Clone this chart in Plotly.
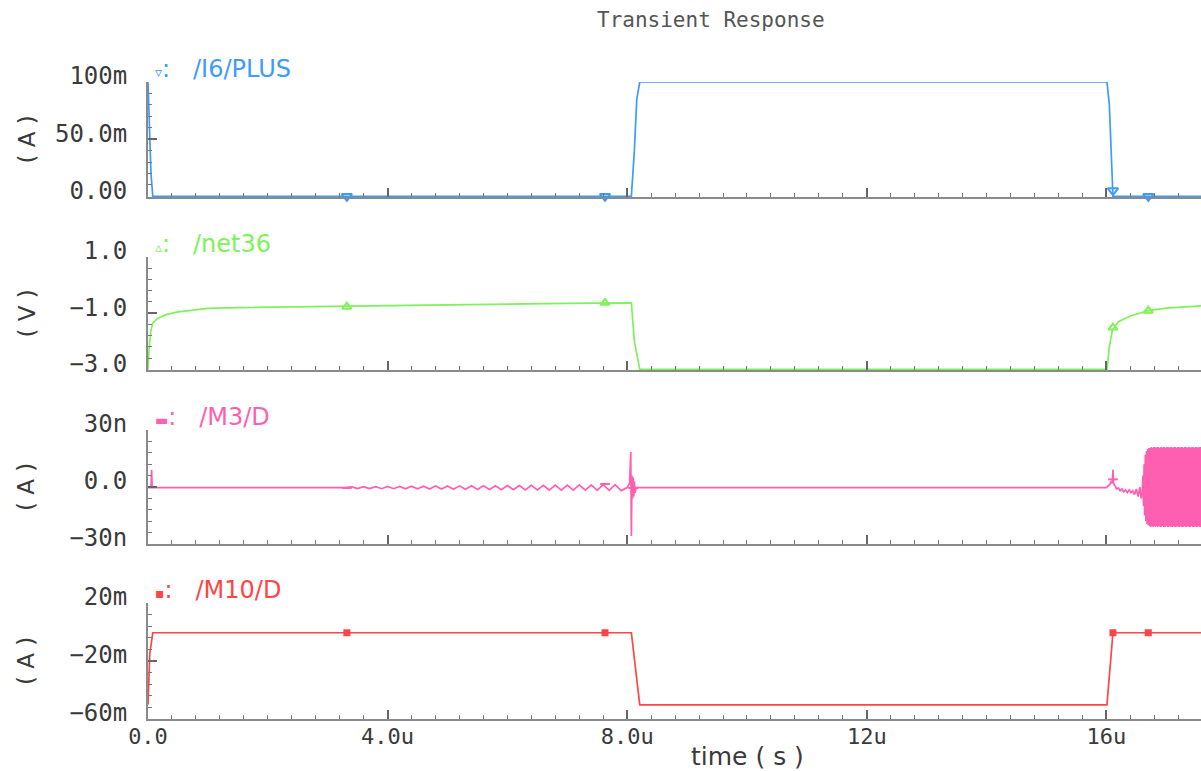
import plotly.graph_objects as go

# ---------------- data (time in microseconds) ----------------
# /I6/PLUS  (mA)
plus_t = [0, 0.02, 0.05, 0.08, 8.07, 8.12, 8.16, 8.21, 16.01, 16.05, 16.09, 16.11, 17.58]
plus_v = [100, 60, 20, 0, 0, 40, 85, 100, 100, 80, 30, 0, 0]
plus_mk_t = [3.32, 7.63, 16.11, 16.70]
plus_mk_v = [0, 0, 5, 0]

# /net36  (V)
net_t = [0, 0.02, 0.05, 0.08, 0.15, 0.3, 0.5, 0.8, 1.0, 1.5, 3.0, 5.0, 7.0, 8.07,
         8.12, 8.21, 16.01, 16.05, 16.1, 16.2, 16.4, 16.7, 17.0, 17.58]
net_v = [-3.0, -2.2, -1.6, -1.35, -1.2, -1.05, -0.95, -0.88, -0.83, -0.80, -0.75, -0.70,
         -0.65, -0.63, -2.0, -3.0, -3.0, -2.2, -1.6, -1.3, -1.1, -0.91, -0.82, -0.74]
net_mk_t = [3.32, 7.63, 16.11, 16.70]
net_mk_v = [-0.77, -0.63, -1.51, -0.91]

# /M3/D  (nA)
m3_t = [0, 0.05, 0.06, 0.07, 0.09, 3.3,
        3.4, 3.5, 3.6, 3.7, 3.8, 3.9, 4.0, 4.1, 4.2, 4.3, 4.4, 4.5, 4.6, 4.7, 4.8, 4.9,
        5.0, 5.1, 5.2, 5.3, 5.4, 5.5, 5.6, 5.7, 5.8, 5.9, 6.0, 6.1, 6.2, 6.3, 6.4, 6.5,
        6.6, 6.7, 6.8, 6.9, 7.0, 7.1, 7.2, 7.3, 7.4, 7.5, 7.6, 7.7, 7.8, 7.9,
        8.0, 8.04, 8.06, 8.07, 8.08, 8.09, 8.10, 8.11, 8.12, 8.13, 8.15,
        16.0, 16.06, 16.08, 16.10, 16.11, 16.12, 16.14, 16.17, 16.2, 16.23, 16.26, 16.29,
        16.32, 16.35, 16.38, 16.41, 16.44, 16.47, 16.5, 16.53, 16.56, 16.58,
        16.60, 16.61, 16.62, 16.63, 16.64, 16.65, 16.66, 16.67, 16.68, 16.69,
        16.70, 16.71, 16.72, 16.73, 16.74, 16.75, 16.76, 16.77, 16.78, 16.79,
        16.80, 16.81, 16.82, 16.83, 16.84, 16.85, 16.86, 16.87, 16.88, 16.89,
        16.90, 16.91, 16.92, 16.93, 16.94, 16.95, 16.96, 16.97, 16.98, 16.99,
        17.00, 17.01, 17.02, 17.03, 17.04, 17.05, 17.06, 17.07, 17.08, 17.09,
        17.10, 17.11, 17.12, 17.13, 17.14, 17.15, 17.16, 17.17, 17.18, 17.19,
        17.20, 17.21, 17.22, 17.23, 17.24, 17.25, 17.26, 17.27, 17.28, 17.29,
        17.30, 17.31, 17.32, 17.33, 17.34, 17.35, 17.36, 17.37, 17.38, 17.39,
        17.40, 17.41, 17.42, 17.43, 17.44, 17.45, 17.46, 17.47, 17.48, 17.49,
        17.50, 17.51, 17.52, 17.53, 17.54, 17.55, 17.56, 17.57, 17.58]
m3_v = [-0.3, -0.3, 9, -0.3, -0.3, -0.3,
        0.1, -0.8, 0.2, -0.8, 0.2, -0.9, 0.3, -0.9, 0.3, -1.0, 0.4, -1.0, 0.4, -1.1, 0.5, -1.1,
        0.5, -1.2, 0.6, -1.2, 0.6, -1.3, 0.7, -1.3, 0.7, -1.4, 0.8, -1.4, 0.8, -1.5, 0.9, -1.5,
        0.9, -1.6, 1.0, -1.6, 1.0, -1.7, 1.1, -1.7, 1.1, -1.8, 1.2, -1.8, 1.2, -1.9,
        -0.3, 2, 18.4, -25.8, 6, -6, 5, -5, 3, -3, -0.3,
        -0.3, 1.5, 3, 2, 9, 2, 0.5, -1, -0.5, -2, -1, -2.5,
        -1.5, -3, -1.5, -3, -2, -4, -1, -5, 0, -6,
        -3, 6, -10, 12, -15, 17, -18, 19, -19.5, 20,
        -20, 20.5, -20.5, 20.5, -21, 21, -20.5, 20.5, -21, 21,
        -20.5, 21, -21, 20.5, -20.5, 21, -21, 21, -20.5, 20.5,
        -21, 21, -21, 20.5, -20.5, 21, -21, 21, -21, 20.5,
        -20.5, 21, -21, 21, -21, 20.5, -20.5, 21, -21, 21,
        -21, 20.5, -20.5, 21, -21, 21, -21, 20.5, -20.5, 21,
        -21, 21, -21, 20.5, -20.5, 21, -21, 21, -21, 20.5,
        -20.5, 21, -21, 21, -21, 20.5, -20.5, 21, -21, 21,
        -21, 20.5, -20.5, 21, -21, 21, -21, 20.5, -20.5, 21,
        -21, 21, -21, 20.5, -20.5, 21, -21, 21, -21]
m3_mk_t = [3.32, 7.63, 8.10, 16.11]
m3_mk_v = [-0.5, 1.6, -0.5, 4]

# /M10/D  (mA)
m10_t = [0, 0.01, 0.03, 0.08, 8.07, 8.21, 16.01, 16.11, 17.58]
m10_v = [-50, -30, -15, -0.5, -0.5, -50.3, -50.3, -0.5, -0.5]
m10_mk_t = [3.32, 7.63, 16.11, 16.70]
m10_mk_v = [-0.5, -0.5, -0.5, -0.5]

x_tickvals = [0, 4, 8, 12, 16]
x_ticktext = ["0.0", "4.0u", "8.0u", "12u", "16u"]

panels = [
    dict(name="/I6/PLUS", sym="▿", color="#3d9bff", t=plus_t, v=plus_v,
         mt=plus_mk_t, mv=plus_mk_v, msym="triangle-down-open", msize=9,
         yr=[-0.6, 100], yt=[0, 50, 100], ytt=["0.00", "50.0m", "100m"], ymin=10,
         unit="( A )", top=82, bot=197),
    dict(name="/net36", sym="▵", color="#7df25a", t=net_t, v=net_v,
         mt=net_mk_t, mv=net_mk_v, msym="triangle-up-open", msize=8,
         yr=[-3.02, 1], yt=[-3, -1, 1], ytt=["−3.0", "−1.0", "1.0"], ymin=0.4,
         unit="( V )", top=257, bot=370),
    dict(name="/M3/D", sym="▬", color="#ff5fb0", t=m3_t, v=m3_v,
         mt=m3_mk_t, mv=m3_mk_v, msym="line-ew", msize=7,
         yr=[-30, 30], yt=[-30, 0, 30], ytt=["−30n", "0.0", "30n"], ymin=6,
         unit="( A )", top=430, bot=544),
    dict(name="/M10/D", sym="▪", color="#ff4545", t=m10_t, v=m10_v,
         mt=m10_mk_t, mv=m10_mk_v, msym="square", msize=5,
         yr=[-60, 20], yt=[-60, -20, 20], ytt=["−60m", "−20m", "20m"], ymin=8,
         unit="( A )", top=603, bot=719),
]

W, H, L = 1201, 771, 148
AX = "#8a8a8a"
TXT = "#3a3a3a"
MONO = "DejaVu Sans Mono"
SANS = "DejaVu Sans"

fig = go.Figure()
annotations = []
layout = {}

for i, p in enumerate(panels, start=1):
    xa = f"x{i}"
    ya = f"y{i}"
    fig.add_trace(go.Scatter(x=p["t"], y=p["v"], xaxis=xa, yaxis=ya, mode="lines",
                             line=dict(color=p["color"], width=1.7), hoverinfo="skip"))
    fig.add_trace(go.Scatter(x=p["mt"], y=p["mv"], xaxis=xa, yaxis=ya, mode="markers",
                             cliponaxis=False,
                             marker=dict(symbol=p["msym"], size=p["msize"], color=p["color"],
                                         line=dict(color=p["color"], width=2)),
                             hoverinfo="skip"))
    dom = [1 - p["bot"] / H, 1 - p["top"] / H]
    layout[f"xaxis{i}" if i > 1 else "xaxis"] = dict(
        domain=[0, 1], anchor=ya, range=[0, 17.58], automargin=False,
        showline=True, linecolor=AX, linewidth=2, mirror=False,
        showgrid=False, zeroline=False,
        tickmode="array", tickvals=x_tickvals, ticktext=x_ticktext,
        ticks="inside", ticklen=9, tickwidth=2, tickcolor="#666",
        showticklabels=(i == 4), ticklabelstandoff=-3,
        tickfont=dict(family=MONO, size=22, color=TXT),
        minor=dict(ticks="inside", tickmode="linear", tick0=0, dtick=0.4,
                   ticklen=4, tickwidth=1, tickcolor="#777", showgrid=False),
        **({"matches": "x"} if i > 1 else {}),
    )
    layout[f"yaxis{i}" if i > 1 else "yaxis"] = dict(
        domain=dom, anchor=xa, range=p["yr"], automargin=False,
        showline=True, linecolor=AX, linewidth=2,
        showgrid=False, zeroline=False,
        tickmode="array", tickvals=p["yt"], ticktext=p["ytt"],
        ticks="inside", ticklen=9, tickwidth=2, tickcolor="#666",
        ticklabelstandoff=14, ticklabelshift=-6,
        tickfont=dict(family=MONO, size=24, color=TXT),
        minor=dict(ticks="inside", tickmode="linear", tick0=p["yt"][0], dtick=p["ymin"],
                   ticklen=4, tickwidth=1, tickcolor="#777", showgrid=False),
    )
    # signal label
    annotations.append(dict(
        xref="paper", yref="paper", x=(153 - L) / (W - L), y=1 - (p["top"] - 13) / H,
        xanchor="left", yanchor="middle", showarrow=False,
        text=f"<span style='font-size:14px'>{p['sym']}</span>:&nbsp;&nbsp;&nbsp;{p['name']}",
        font=dict(family=SANS, size=24, color=p["color"]),
    ))
    # unit label
    annotations.append(dict(
        xref="paper", yref="paper", x=(26 - L) / (W - L), y=1 - ((p["top"] + p["bot"]) / 2) / H,
        xanchor="center", yanchor="middle", showarrow=False, textangle=-90,
        text=p["unit"], font=dict(family=SANS, size=23, color=TXT),
    ))

annotations.append(dict(
    xref="paper", yref="paper", x=(711 - L) / (W - L), y=1 - 20 / H,
    xanchor="center", yanchor="middle", showarrow=False,
    text="Transient Response", font=dict(family=MONO, size=21, color="#555"),
))
annotations.append(dict(
    xref="paper", yref="paper", x=(747 - L) / (W - L), y=1 - 756 / H,
    xanchor="center", yanchor="middle", showarrow=False,
    text="time ( s )", font=dict(family=SANS, size=25, color=TXT),
))

fig.update_layout(
    width=W, height=H,
    margin=dict(l=L, r=0, t=0, b=0, pad=0, autoexpand=False),
    paper_bgcolor="white", plot_bgcolor="white",
    showlegend=False,
    annotations=annotations,
    **layout,
)

fig.write_html("out.html", config={"displayModeBar": False},
               post_script="document.body.style.margin='0px';document.body.style.overflow='hidden';")
